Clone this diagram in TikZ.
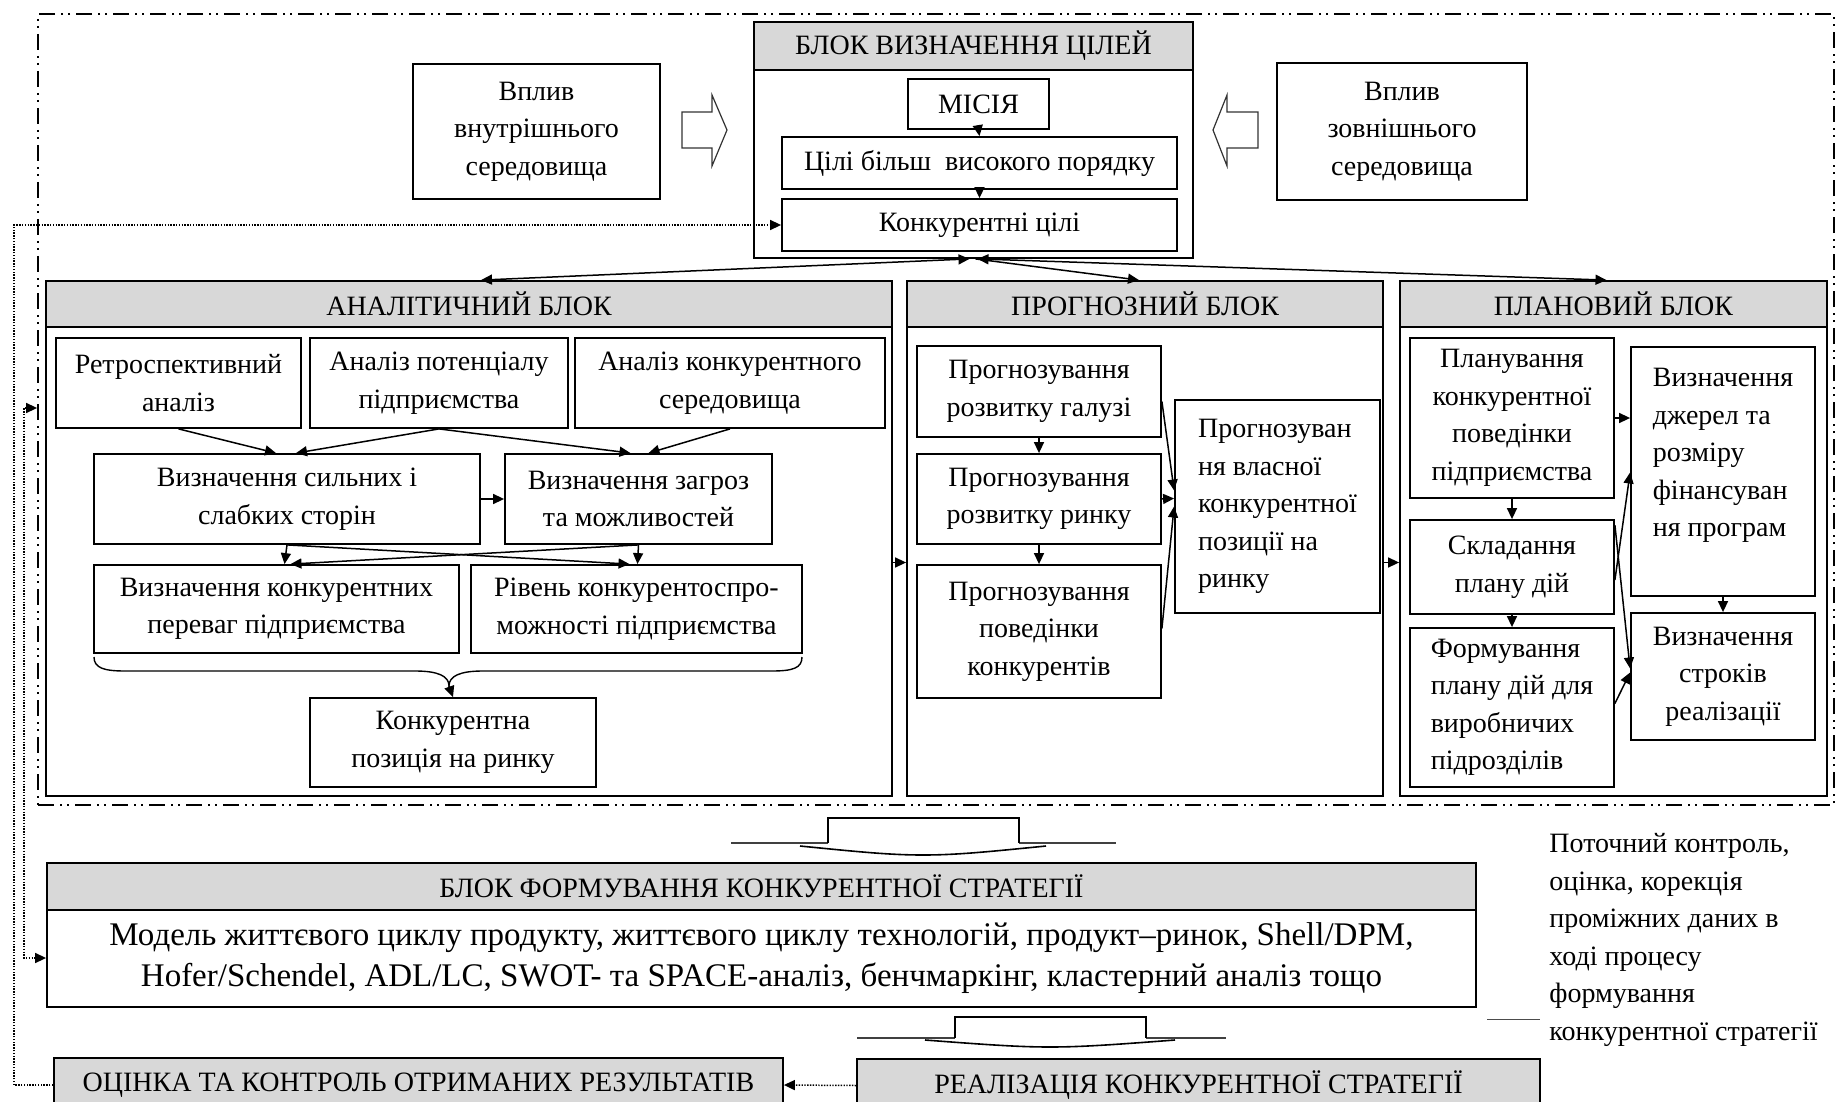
\documentclass[tikz,border=0pt]{standalone}
\usepackage{fontspec}
\setmainfont{Liberation Serif}
\usetikzlibrary{arrows.meta}
\definecolor{hdrgray}{RGB}{216,216,216}
\tikzset{
  boxst/.style={draw, line width=0.9pt, inner sep=2pt, align=center,
    font=\fontsize{14}{18.75}\selectfont},
  hdrst/.style={fill=hdrgray},
  dashdot/.style={line width=0.9pt,
    dash pattern=on 8pt off 3pt on 1pt off 2.5pt on 1pt off 3pt},
  arr/.style={line width=0.75pt, -{Triangle[length=5.5pt,width=5pt]}},
  darr/.style={line width=0.75pt,
    {Triangle[length=5.5pt,width=5pt]}-{Triangle[length=5.5pt,width=5pt]}},
  fb/.style={line width=0.6pt, dash pattern=on 0.7pt off 0.7pt},
  hollow/.style={line width=0.6pt, draw=black!80, fill=white},
  wing/.style={line width=1.4pt, draw=black!75},
  wedge/.style={line width=0.8pt},
  notest/.style={align=left, inner sep=0pt, font=\fontsize{14}{18.75}\selectfont},
}
% box given by its corners (x1,y1)-(x2,y2) in pixel units
\newcommand\bx[7][]{%
  \node[boxst, minimum width={(#5-#3)*0.5pt}, minimum height={(#6-#4)*0.5pt}, #1]
    (#2) at ({(#3+#5)/2},{(#4+#6)/2}) {#7};}

\begin{document}
\begin{tikzpicture}[x=0.5pt,y=-0.5pt]
\useasboundingbox (0,0) rectangle (1838,1102);
\clip (0,0) rectangle (1838,1102);

% dash-dotted frame round the analysis part
\bx[dashdot]{outer}{38}{14}{1834}{805}{}

% ---- goal block ----
\bx{vin}{413}{64}{660}{199}{Вплив\\внутрішнього\\середовища}
\bx{vzo}{1277}{63}{1527}{200}{Вплив\\зовнішнього\\середовища}
\bx{bvc}{754}{22}{1193}{258}{}
\bx[hdrst]{bvch}{754}{22}{1193}{70}{БЛОК ВИЗНАЧЕННЯ ЦІЛЕЙ}
\bx{mis}{908}{79}{1049}{129}{МІСІЯ}
\bx{tsv}{782}{137}{1177}{189}{Цілі більш\ \ високого порядку}
\bx{kts}{782}{199}{1177}{251}{Конкурентні цілі}

% hollow influence arrows
\draw[hollow] (682,112) -- (712,112) -- (712,95) -- (727,130) -- (712,166)
  -- (712,148) -- (682,148) -- cycle;
\draw[hollow] (1258,112) -- (1227,112) -- (1227,95) -- (1213,130) -- (1227,166)
  -- (1227,148) -- (1258,148) -- cycle;

% ---- analytical block ----
\bx{an}{46}{281}{892}{796}{}
\bx[hdrst]{anh}{46}{281}{892}{327}{АНАЛІТИЧНИЙ БЛОК}
\bx{retro}{56}{338}{301}{428}{Ретроспективний\\аналіз}
\bx{ap}{310}{338}{568}{428}{Аналіз потенціалу\\підприємства}
\bx{ak}{575}{338}{885}{428}{Аналіз конкурентного\\середовища}
\bx{ss}{94}{454}{480}{544}{Визначення сильних і\\слабких сторін}
\bx{zm}{505}{454}{772}{544}{Визначення загроз\\та можливостей}
\bx{kp}{94}{565}{459}{653}{Визначення конкурентних\\переваг підприємства}
\bx{rk}{471}{565}{802}{653}{Рівень конкурентоспро-\\можності підприємства}
\bx{pos}{310}{698}{596}{787}{Конкурентна\\позиція на ринку}

% ---- forecasting block ----
\bx{pr}{907}{281}{1383}{796}{}
\bx[hdrst]{prh}{907}{281}{1383}{327}{ПРОГНОЗНИЙ БЛОК}
\bx{pg}{917}{346}{1161}{437}{Прогнозування\\розвитку галузі}
\bx{prr}{917}{454}{1161}{544}{Прогнозування\\розвитку ринку}
\bx{pk}{917}{565}{1161}{698}{Прогнозування\\поведінки\\конкурентів}
\bx[align=left]{pv}{1175}{400}{1380}{613}{Прогнозуван\\ня власної\\конкурентної\\позиції на\\ринку}

% ---- planning block ----
\bx{pl}{1400}{281}{1827}{796}{}
\bx[hdrst]{plh}{1400}{281}{1827}{327}{ПЛАНОВИЙ БЛОК}
\bx{pkp}{1410}{338}{1614}{498}{Планування\\конкурентної\\поведінки\\підприємства}
\bx{spd}{1410}{520}{1614}{614}{Складання\\плану дій}
\bx[align=left]{fpd}{1410}{628}{1614}{787}{Формування\\плану дій для\\виробничих\\підрозділів}
\bx[align=left]{vdf}{1631}{347}{1815}{596}{Визначення\\джерел та\\розміру\\фінансуван\\ня програм\\\mbox{}}
\bx{vsr}{1631}{613}{1815}{740}{Визначення\\строків\\реалізації}

% ---- strategy block ----
\bx{bf}{47}{863}{1476}{1007}{}
\bx[hdrst]{bfh}{47}{863}{1476}{910}{БЛОК ФОРМУВАННЯ КОНКУРЕНТНОЇ СТРАТЕГІЇ}
\bx[draw=none, font=\fontsize{16.5}{20.5}\selectfont]{bfb}{47}{910}{1476}{1007}%
  {Модель життєвого циклу продукту, життєвого циклу технологій, продукт–ринок, Shell/DPM,\\
   Hofer/Schendel, ADL/LC, SWOT- та SPACE-аналіз, бенчмаркінг, кластерний аналіз тощо}

\bx[hdrst]{oc}{54}{1058}{783}{1112}{ОЦІНКА ТА КОНТРОЛЬ ОТРИМАНИХ РЕЗУЛЬТАТІВ}
\bx[hdrst]{re}{857}{1059}{1540}{1112}{РЕАЛІЗАЦІЯ КОНКУРЕНТНОЇ СТРАТЕГІЇ}

\node[notest, anchor=west] (note) at (1549,940)
  {Поточний контроль,\\оцінка, корекція\\проміжних даних в\\ході процесу\\формування\\конкурентної стратегії};
\draw[line width=0.5pt, black!70] (1487,1019) -- (1540,1019);

% flat down arrows between the stages
\draw[wing] (731,843) -- (828,843) (1019,843) -- (1116,843);
\draw[wedge] (828,843) -- (828,818) -- (1019,818) -- (1019,843);
\draw[wedge] (800,846) .. controls (860,852) and (890,855) .. (923,855)
  .. controls (956,855) and (986,852) .. (1046,846);
\draw[wing] (857,1038) -- (955,1038) (1146,1038) -- (1226,1038);
\draw[wedge] (955,1038) -- (955,1017) -- (1146,1017) -- (1146,1038);
\draw[wedge] (925,1040) .. controls (990,1045) and (1020,1047) .. (1050,1047)
  .. controls (1080,1047) and (1110,1045) .. (1175,1040);

% ---- connectors: goals ----
\draw[arr] (mis.south) -- (tsv.north);
\draw[arr] (tsv.south) -- (kts.north);
\draw[darr] ([xshift=6pt]an.north) -- ([xshift=-2pt]bvc.south);
\draw[arr] ([xshift=1pt]bvc.south) -- ([xshift=-3pt]pr.north);
\draw[darr] ([xshift=2pt]bvc.south) -- ([xshift=-3.5pt]pl.north);

% ---- connectors: analysis ----
\draw[arr] (retro.south) -- ([xshift=-5.5pt]ss.north);
\draw[arr] (ap.south) -- ([xshift=4.5pt]ss.north);
\draw[arr] (ap.south) -- ([xshift=-4pt]zm.north);
\draw[arr] (ak.south) -- ([xshift=5pt]zm.north);
\draw[arr] (ss.east) -- (zm.west);
\draw[arr] (ss.south) -- ([xshift=4pt]kp.north);
\draw[arr] (zm.south) -- ([xshift=7pt]kp.north);
\draw[arr] (ss.south) -- ([xshift=-3.5pt]rk.north);
\draw[arr] (zm.south) -- ([xshift=0.5pt]rk.north);
\coordinate (brtip) at (449,686);
\draw[line width=0.7pt] (94,657) .. controls (94,668) and (104,671) .. (125,671)
  -- (415,671) .. controls (438,671) and (449,676) .. (brtip)
  .. controls (449,676) and (460,671) .. (483,671)
  -- (772,671) .. controls (793,671) and (802,668) .. (802,657);
\draw[arr] (brtip) -- (pos.north);

% ---- connectors: forecasting ----
\draw[arr] (pg.south) -- (prr.north);
\draw[arr] (prr.south) -- (pk.north);
\draw[arr] ([yshift=-5pt]pg.east) -- ([yshift=8pt]pv.west);
\draw[arr] (prr.east) -- ([yshift=4pt]pv.west);
\draw[arr] ([yshift=1.5pt]pk.east) -- (pv.west);
\draw[arr] ([yshift=-12pt]an.east) -- ([yshift=-12pt]pr.west);
\draw[arr] ([yshift=-12pt]pr.east) -- ([yshift=-12pt]pl.west);

% ---- connectors: planning ----
\draw[arr] (pkp.south) -- (spd.north);
\draw[arr] (spd.south) -- (fpd.north);
\draw[arr] (vdf.south) -- (vsr.north);
\draw[arr] (pkp.east) -- (vdf.west |- pkp.east);
\draw[arr] ([yshift=-6.5pt]spd.east) -- ([yshift=-0.5pt]vdf.west);
\draw[arr] ([yshift=-3pt]spd.north east) -- ([yshift=4pt]vsr.west);
\draw[arr] ([yshift=2pt]fpd.east) -- ([yshift=2pt]vsr.west);

% ---- feedback (dotted) ----
\coordinate (fbA) at (14,1085);
\coordinate (fbB) at (24,408);
\coordinate (fbC) at (24,958);
\draw[fb, arr] (oc.west) -- (fbA) |- (kts.west);
\draw[fb, darr] (outer.west |- fbB) -- (fbB) -- (fbC) -- (bfb.west |- fbC);
\draw[fb, arr] (re.west) -- (oc.east);
\end{tikzpicture}
\end{document}
